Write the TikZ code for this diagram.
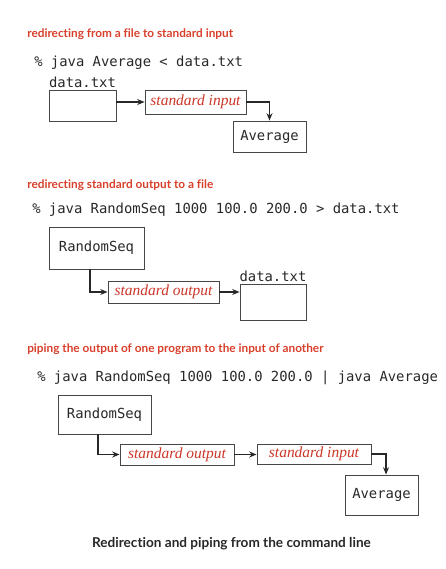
\documentclass[tikz,border=0pt]{standalone}
\usepackage{fontspec}
\setmainfont{Liberation Serif}
\setsansfont{Lato}[Ligatures=NoCommon]
\setmonofont{DejaVu Sans Mono}
\usetikzlibrary{arrows.meta,positioning}
\definecolor{headred}{RGB}{216,64,44}
\definecolor{streamred}{RGB}{204,54,40}
\definecolor{boxgray}{RGB}{70,70,70}
\definecolor{inkgray}{RGB}{40,40,40}

\begin{document}
\begin{tikzpicture}[
	x=0.75pt,
	y=-0.75pt,
	head/.style={anchor=base west, inner sep=0pt, text=headred, font=\sffamily\bfseries\fontsize{8.85}{10}\selectfont},
	cmd/.style={anchor=base west, inner sep=0pt, text=inkgray, font=\ttfamily\fontsize{10.4}{12}\selectfont},
	progbox/.style={draw=boxgray, line width=0.7pt, inner sep=0pt, text=inkgray, font=\ttfamily\fontsize{10.4}{12}\selectfont},
	streambox/.style={progbox, text=streamred, font=\itshape\fontsize{11.6}{13}\selectfont},
	fname/.style={anchor=south, inner sep=1pt, text=inkgray, font=\ttfamily\fontsize{10.4}{12}\selectfont},
	flow/.style={-{Stealth[length=5.5pt,width=4.5pt]}, draw=inkgray, line width=1.1pt}
]
	\useasboundingbox (0,0) rectangle (446,569);

	% from a file to standard input
	\node[head] (head1) at (27,37.3) {redirecting from a file to standard input};
	\node[cmd] (cmd1) at (34,66.7) {\% java Average < data.txt};
	\node[progbox, minimum width=50.25pt, minimum height=23.25pt] (data1) at (82.5,105.5) {};
	\node[fname] (name1) at (data1.north) {data.txt};
	\node[streambox, minimum width=75.75pt, minimum height=18pt] (in1) at (195.5,102) {standard input};
	\node[progbox, minimum width=54.75pt, minimum height=23.25pt] (avg1) at (269.5,136.5) {Average};
	\draw[flow] (data1.east |- in1.west) -- (in1.west);
	\draw[flow] (in1.east) -| (avg1.north);

	% standard output to a file
	\node[head] (head2) at (27,188) {redirecting standard output to a file};
	\node[cmd] (cmd2) at (32,213.3) {\% java RandomSeq 1000 100.0 200.0 > data.txt};
	\node[progbox, minimum width=71.25pt, minimum height=31.5pt] (rand2) at (96.5,248) {RandomSeq};
	\node[streambox, minimum width=83.25pt, minimum height=16.5pt] (out2) at (163.5,292) {standard output};
	\node[progbox, minimum width=49.5pt, minimum height=27pt] (data2) at (273,302) {};
	\node[fname] (name2) at (data2.north) {data.txt};
	\draw[flow] ([xshift=-4.9pt]rand2.south) |- (out2.west);
	\draw[flow] (out2.east) -- (out2.east -| data2.west);

	% piping
	\node[head] (head3) at (27,352) {piping the output of one program to the input of another};
	\node[cmd] (cmd3) at (37,381) {\% java RandomSeq 1000 100.0 200.0 | java Average};
	\node[progbox, minimum width=69.75pt, minimum height=29.25pt] (rand3) at (104.5,414.5) {RandomSeq};
	\node[streambox, minimum width=85.5pt, minimum height=15.75pt] (out3) at (177,454.5) {standard output};
	\node[streambox, minimum width=85.5pt, minimum height=15pt] (in3) at (314,454) {standard input};
	\node[progbox, minimum width=54.75pt, minimum height=30pt] (avg3) at (381.5,495) {Average};
	\draw[flow] ([xshift=-4.9pt]rand3.south) |- (out3.west);
	\draw[flow] (out3.east) -- (out3.east -| in3.west);
	\draw[flow] (in3.east) -| ([xshift=3.4pt]avg3.north);

	\node[anchor=base, inner sep=0pt, text=inkgray, font=\sffamily\bfseries\fontsize{10.2}{12}\selectfont] (caption) at (231.5,547.7) {Redirection and piping from the command line};
\end{tikzpicture}
\end{document}
